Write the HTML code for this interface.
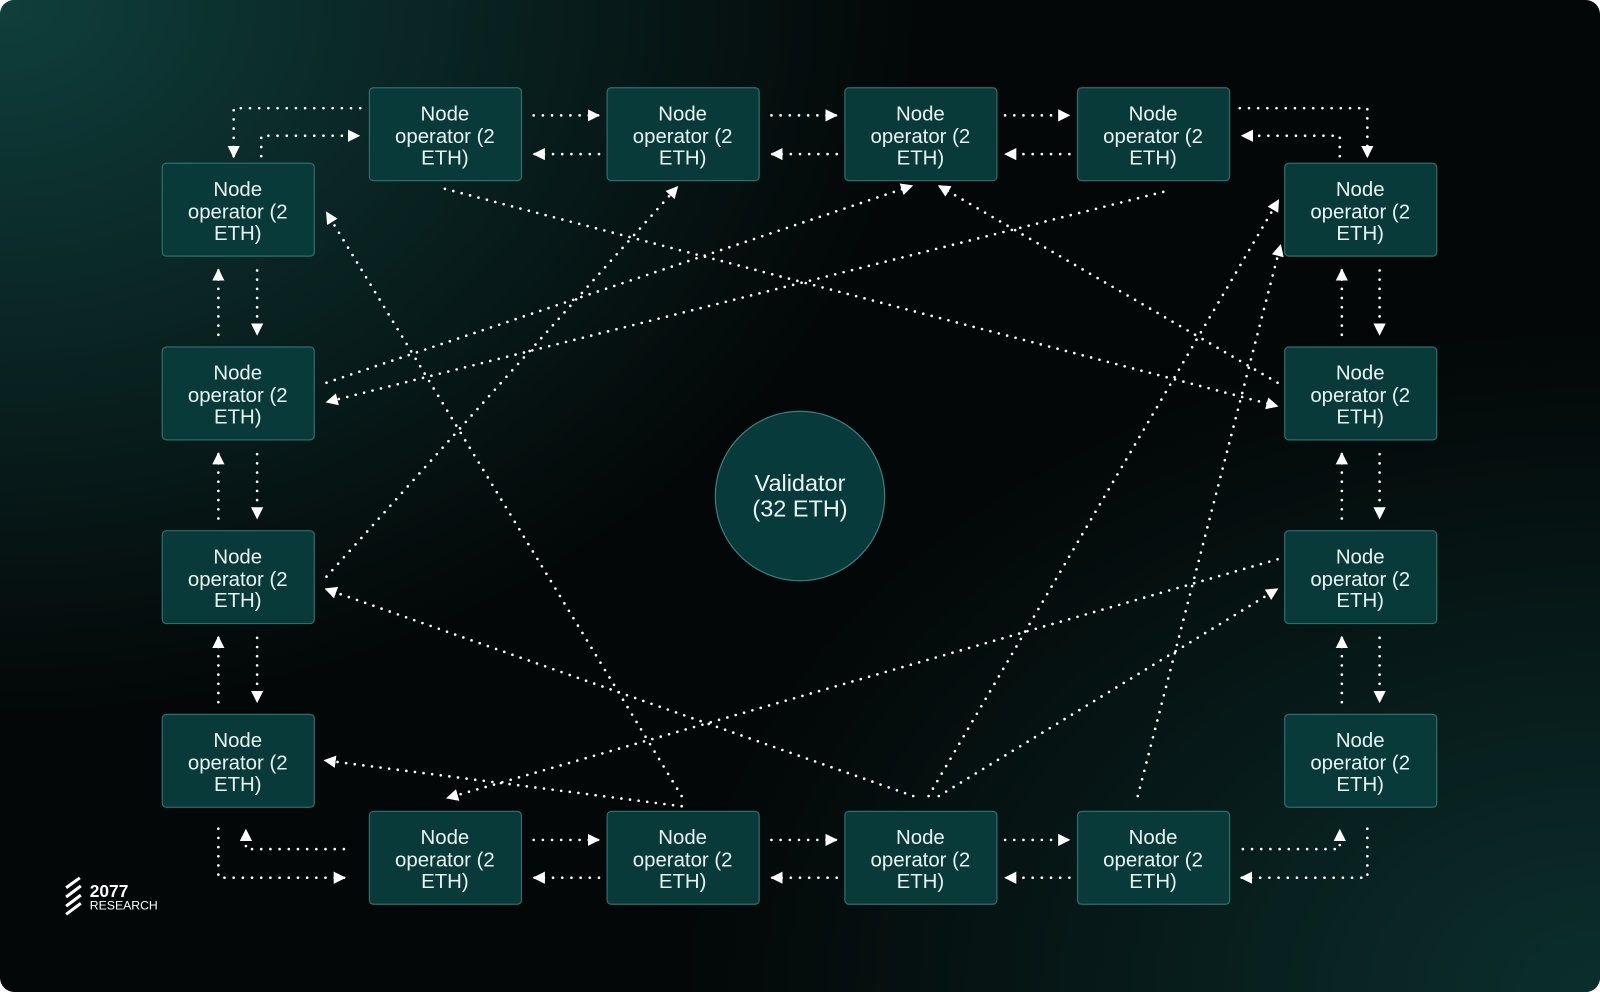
<!DOCTYPE html>
<html><head><meta charset="utf-8"><style>
html,body{margin:0;padding:0;background:#fff;}
svg{display:block}
</style></head><body>
<svg width="1600" height="992" viewBox="0 0 1568 972" preserveAspectRatio="none" xmlns="http://www.w3.org/2000/svg">
<defs>
<radialGradient id="g1" cx="0" cy="0" r="1" gradientUnits="userSpaceOnUse" gradientTransform="translate(0 0) scale(900 700)">
<stop offset="0" stop-color="#0f3f3c"/><stop offset="1" stop-color="#0f3f3c" stop-opacity="0"/></radialGradient>
<radialGradient id="g2" cx="0" cy="0" r="1" gradientUnits="userSpaceOnUse" gradientTransform="translate(1568 972) scale(900 650)">
<stop offset="0" stop-color="#0b2f2d"/><stop offset="1" stop-color="#0b2f2d" stop-opacity="0"/></radialGradient>
<marker id="ah" viewBox="0 0 12 12" refX="11" refY="6" markerWidth="12" markerHeight="12" markerUnits="userSpaceOnUse" orient="auto">
<path d="M0 0 L12 6 L0 12 Z" fill="#fff"/></marker>
</defs>
<rect x="0" y="0" width="1568" height="972" rx="14" fill="#030707"/>
<rect x="0" y="0" width="1568" height="972" rx="14" fill="url(#g1)"/>
<rect x="0" y="0" width="1568" height="972" rx="14" fill="url(#g2)"/>

<g fill="none" stroke="#fff" stroke-width="2.6" stroke-linecap="round" stroke-dasharray="0 9" marker-end="url(#ah)">
<!-- top row -->
<path d="M523 113 H587"/><path d="M587 151 H523"/>
<path d="M756 113 H820"/><path d="M820 151 H756"/>
<path d="M985 113 H1048"/><path d="M1048 151 H985"/>
<path d="M353 106 H229 V154"/><path d="M256 153 V133 H352"/>
<path d="M1215 106 H1340 V154"/><path d="M1313 153 V133 H1217"/>
<!-- bottom row -->
<path d="M523 823 H587"/><path d="M587 860 H523"/>
<path d="M756 823 H820"/><path d="M820 860 H756"/>
<path d="M985 823 H1048"/><path d="M1048 860 H985"/>
<path d="M214 812 V860 H338"/><path d="M337 832 H241 V813"/>
<path d="M1218 832 H1313 V813"/><path d="M1340 812 V860 H1216"/>
<!-- left column -->
<path d="M214 328 V264"/><path d="M252 265 V328"/>
<path d="M214 508 V444"/><path d="M252 445 V508"/>
<path d="M214 688 V624"/><path d="M252 625 V688"/>
<!-- right column -->
<path d="M1315 328 V264"/><path d="M1352 265 V328"/>
<path d="M1315 508 V444"/><path d="M1352 445 V508"/>
<path d="M1315 688 V624"/><path d="M1352 625 V688"/>
<!-- diagonals -->
<g stroke-dasharray="0 8.5">
<path d="M436 185 L1252 398"/>
<path d="M668 780 L320 208"/>
<path d="M320 375 L894 182"/>
<path d="M1140 188 L320 394"/>
<path d="M320 565 L664 183"/>
<path d="M1252 375 L920 182"/>
<path d="M1252 548 L438 782"/>
<path d="M895 780 L319 577"/>
<path d="M910 780 L1253 196"/>
<path d="M920 780 L1252 577"/>
<path d="M1115 780 L1255 240"/>
<path d="M668 790 L318 745"/>
</g>
</g>

<g fill="#083a3a" stroke="#2f6d69" stroke-width="1.2">
<rect x="362" y="86" width="149" height="91" rx="4"/>
<rect x="595" y="86" width="149" height="91" rx="4"/>
<rect x="828" y="86" width="149" height="91" rx="4"/>
<rect x="1056" y="86" width="149" height="91" rx="4"/>
<rect x="362" y="795" width="149" height="91" rx="4"/>
<rect x="595" y="795" width="149" height="91" rx="4"/>
<rect x="828" y="795" width="149" height="91" rx="4"/>
<rect x="1056" y="795" width="149" height="91" rx="4"/>
<rect x="159" y="160" width="149" height="91" rx="4"/>
<rect x="159" y="340" width="149" height="91" rx="4"/>
<rect x="159" y="520" width="149" height="91" rx="4"/>
<rect x="159" y="700" width="149" height="91" rx="4"/>
<rect x="1259" y="160" width="149" height="91" rx="4"/>
<rect x="1259" y="340" width="149" height="91" rx="4"/>
<rect x="1259" y="520" width="149" height="91" rx="4"/>
<rect x="1259" y="700" width="149" height="91" rx="4"/>
<circle cx="784" cy="486" r="83" fill="#073a3a" stroke="#3f7c77"/>
</g>

<g font-family="Liberation Sans, sans-serif" font-size="20" fill="#eaf2f0" text-anchor="middle">
<text x="436" y="118">Node</text><text x="436" y="140">operator (2</text><text x="436" y="161">ETH)</text>
<text x="669" y="118">Node</text><text x="669" y="140">operator (2</text><text x="669" y="161">ETH)</text>
<text x="902" y="118">Node</text><text x="902" y="140">operator (2</text><text x="902" y="161">ETH)</text>
<text x="1130" y="118">Node</text><text x="1130" y="140">operator (2</text><text x="1130" y="161">ETH)</text>
<text x="436" y="827">Node</text><text x="436" y="849">operator (2</text><text x="436" y="870">ETH)</text>
<text x="669" y="827">Node</text><text x="669" y="849">operator (2</text><text x="669" y="870">ETH)</text>
<text x="902" y="827">Node</text><text x="902" y="849">operator (2</text><text x="902" y="870">ETH)</text>
<text x="1130" y="827">Node</text><text x="1130" y="849">operator (2</text><text x="1130" y="870">ETH)</text>
<text x="233" y="192">Node</text><text x="233" y="214">operator (2</text><text x="233" y="235">ETH)</text>
<text x="233" y="372">Node</text><text x="233" y="394">operator (2</text><text x="233" y="415">ETH)</text>
<text x="233" y="552">Node</text><text x="233" y="574">operator (2</text><text x="233" y="595">ETH)</text>
<text x="233" y="732">Node</text><text x="233" y="754">operator (2</text><text x="233" y="775">ETH)</text>
<text x="1333" y="192">Node</text><text x="1333" y="214">operator (2</text><text x="1333" y="235">ETH)</text>
<text x="1333" y="372">Node</text><text x="1333" y="394">operator (2</text><text x="1333" y="415">ETH)</text>
<text x="1333" y="552">Node</text><text x="1333" y="574">operator (2</text><text x="1333" y="595">ETH)</text>
<text x="1333" y="732">Node</text><text x="1333" y="754">operator (2</text><text x="1333" y="775">ETH)</text>
<text x="784" y="481" font-size="23">Validator</text>
<text x="784" y="506" font-size="23">(32 ETH)</text>
</g>

<!-- logo -->
<g stroke="#fff" stroke-width="3" stroke-linecap="square">
<path d="M66 869 L77 861"/><path d="M66 878 L78 869"/><path d="M66 887 L78 878"/><path d="M66 895 L78 886"/>
</g>
<text x="88" y="879" font-family="Liberation Sans, sans-serif" font-size="17" font-weight="bold" fill="#fff">2077</text>
<text x="88" y="891" font-family="Liberation Sans, sans-serif" font-size="12" fill="#fff">RESEARCH</text>
</svg>
</body></html>
